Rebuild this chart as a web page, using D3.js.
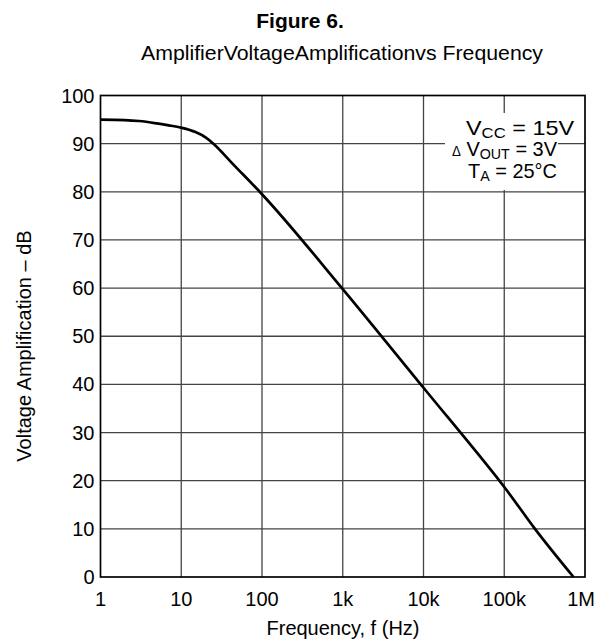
<!DOCTYPE html>
<html>
<head>
<meta charset="utf-8">
<script src="https://cdn.jsdelivr.net/npm/d3@7"></script>
<style>
  body { margin: 0; background: #fff; }
  svg { display: block; font-family: "Liberation Sans", Arial, sans-serif; }
</style>
</head>
<body>
<svg id="chart" width="596" height="641"></svg>
<script>
// curve: frequency (Hz) vs gain (dB)
const freq = [1, 2, 3, 5, 7, 10, 15, 20, 25, 44, 100, 1000, 10000, 87000, 100000, 240000, 720000];
const gain = [95, 94.9, 94.7, 94.2, 93.8, 93.3, 92.4, 91.3, 90, 85.7, 79.5, 59.8, 39.3, 20, 18.7, 10, 0];

const xTicks = [1, 10, 100, 1e3, 1e4, 1e5, 1e6];
const xTickLabels = ['1', '10', '100', '1k', '10k', '100k', '1M'];
const yTicks = [0, 10, 20, 30, 40, 50, 60, 70, 80, 90, 100];

const m = {left: 100.5, right: 585, top: 95.5, bottom: 577};

const svg = d3.select('#chart');

const x = d3.scaleLog().domain([1, 1e6]).range([m.left, m.right]);
const y = d3.scaleLinear().domain([0, 100]).range([m.bottom, m.top]);

// titles
svg.append('text')
    .attr('x', 300).attr('y', 28)
    .attr('text-anchor', 'middle')
    .style('font-size', '21px').style('font-weight', 'bold')
    .text('Figure 6.');

svg.append('text')
    .attr('x', 342).attr('y', 60)
    .attr('text-anchor', 'middle')
    .attr('textLength', 402)
    .attr('lengthAdjust', 'spacingAndGlyphs')
    .style('font-size', '20px')
    .text('AmplifierVoltageAmplificationvs Frequency');

// grid
const grid = svg.append('g').attr('class', 'grid');
grid.selectAll('.vline')
    .data(xTicks.slice(1, -1))
    .enter().append('line')
        .attr('x1', d => x(d)).attr('x2', d => x(d))
        .attr('y1', m.top).attr('y2', m.bottom)
        .style('stroke', '#444').style('stroke-width', 1.3);

grid.selectAll('.hline')
    .data(yTicks.slice(1, -1))
    .enter().append('line')
        .attr('y1', d => y(d)).attr('y2', d => y(d))
        .attr('x1', m.left).attr('x2', m.right)
        .style('stroke', '#444').style('stroke-width', 1.3);

// frame
svg.append('rect')
    .attr('x', m.left).attr('y', m.top)
    .attr('width', m.right - m.left).attr('height', m.bottom - m.top)
    .style('fill', 'none').style('stroke', '#000').style('stroke-width', 1.7);

// axes labels
svg.append('g')
    .selectAll('text')
    .data(yTicks)
    .enter().append('text')
        .attr('x', m.left - 6)
        .attr('y', d => y(d))
        .attr('dy', '0.35em')
        .attr('text-anchor', 'end')
        .style('font-size', '20px')
        .text(d => d);

svg.append('g')
    .selectAll('text')
    .data(xTicks)
    .enter().append('text')
        .attr('x', (d, i) => i == xTicks.length - 1 ? 595 : x(d))
        .attr('y', 606)
        .attr('text-anchor', (d, i) => i == xTicks.length - 1 ? 'end' : 'middle')
        .style('font-size', '20px')
        .text((d, i) => xTickLabels[i]);

svg.append('text')
    .attr('x', 343).attr('y', 635)
    .attr('text-anchor', 'middle')
    .style('font-size', '20px')
    .text('Frequency, f (Hz)');

svg.append('text')
    .attr('transform', `translate(31, 346) rotate(-90)`)
    .attr('text-anchor', 'middle')
    .style('font-size', '20px')
    .text('Voltage Amplification \u2013 dB');

// curve
const line = d3.line()
    .x((d, i) => x(freq[i]))
    .y(d => y(d))
    .curve(d3.curveMonotoneX);

svg.append('path')
    .datum(gain)
    .attr('d', line)
    .style('fill', 'none')
    .style('stroke', '#000')
    .style('stroke-width', 2.7);

// conditions box
const notes = svg.append('g').attr('class', 'notes');
notes.append('rect')
    .attr('x', 445).attr('y', 113)
    .attr('width', 113).attr('height', 77)
    .style('fill', '#fff');

const noteLines = [
    {x: 466, y: 135, w: 108, parts: [['V', 0], ['CC', 1], [' = 15V', 0]]},
    {x: 452, y: 156, w: 105, parts: [['\u0394', 2], [' V', 0], ['OUT', 1], [' = 3V', 0]]},
    {x: 468, y: 178, w: 89, parts: [['T', 0], ['A', 1], [' = 25\u00b0C', 0]]}
];

noteLines.forEach(n => {
    const t = notes.append('text')
        .attr('x', n.x).attr('y', n.y)
        .attr('textLength', n.w)
        .attr('lengthAdjust', 'spacingAndGlyphs')
        .style('font-size', '21px');
    n.parts.forEach(p => {
        t.append('tspan')
            .style('font-size', p[1] == 1 ? '15px' : (p[1] == 2 ? '14px' : '21px'))
            .attr('baseline-shift', p[1] == 1 ? '-3' : null)
            .text(p[0]);
    });
});
</script>
</body>
</html>
